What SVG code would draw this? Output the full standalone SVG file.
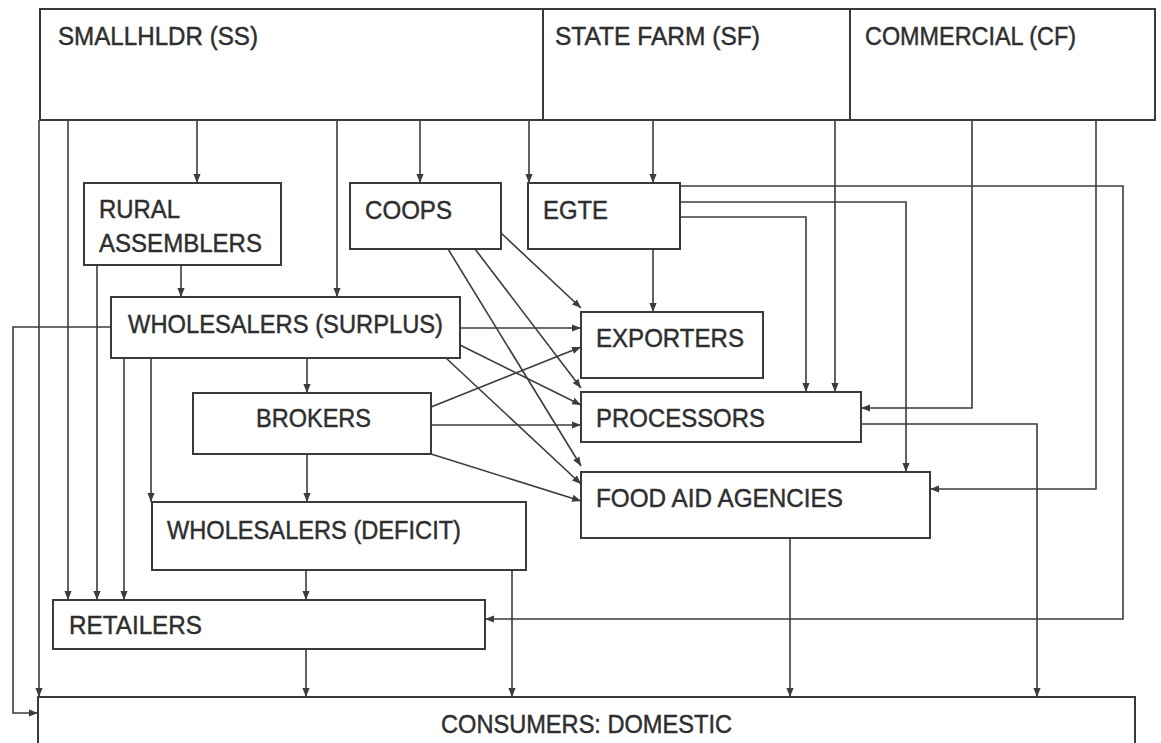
<svg xmlns="http://www.w3.org/2000/svg" width="1161" height="743" viewBox="0 0 1161 743">
<style>
.box{fill:none;stroke:#3a3a3a;stroke-width:2}
.t{font-family:"Liberation Sans",Arial,sans-serif;font-size:26.5px;fill:#2e2e2e;stroke:#2e2e2e;stroke-width:0.45}
.c{fill:none;stroke:#3c3c3c;stroke-width:1.6}
.a{marker-end:url(#ah)}
</style>
<defs>
<marker id="ah" viewBox="0 0 10 10" refX="10" refY="5" markerWidth="9" markerHeight="9" markerUnits="userSpaceOnUse" orient="auto">
<path d="M0,1 L10,5 L0,9 z" fill="#3c3c3c"/>
</marker>
</defs>
<rect width="1161" height="743" fill="#ffffff"/>
<g id="producers">
<rect class="box" x="40" y="9" width="1115" height="111"/>
<line class="box" x1="543" y1="9" x2="543" y2="120"/>
<line class="box" x1="850" y1="9" x2="850" y2="120"/>
</g>
<g id="smallholder"><text class="t" x="58" y="45" textLength="200" lengthAdjust="spacingAndGlyphs">SMALLHLDR (SS)</text></g>
<g id="statefarm"><text class="t" x="555" y="45" textLength="205" lengthAdjust="spacingAndGlyphs">STATE FARM (SF)</text></g>
<g id="commercial"><text class="t" x="865" y="45" textLength="211" lengthAdjust="spacingAndGlyphs">COMMERCIAL (CF)</text></g>
<g id="rural"><rect class="box" x="84" y="183" width="197" height="82"/><text class="t" x="99" y="218" textLength="81" lengthAdjust="spacingAndGlyphs">RURAL</text><text class="t" x="99" y="252" textLength="163" lengthAdjust="spacingAndGlyphs">ASSEMBLERS</text></g>
<g id="coops"><rect class="box" x="350" y="183" width="151" height="66"/><text class="t" x="365" y="219" textLength="87" lengthAdjust="spacingAndGlyphs">COOPS</text></g>
<g id="egte"><rect class="box" x="528" y="183" width="152" height="66"/><text class="t" x="543" y="219" textLength="65" lengthAdjust="spacingAndGlyphs">EGTE</text></g>
<g id="ws_surplus"><rect class="box" x="111" y="297" width="349" height="61"/><text class="t" x="128" y="333" textLength="315" lengthAdjust="spacingAndGlyphs">WHOLESALERS (SURPLUS)</text></g>
<g id="exporters"><rect class="box" x="581" y="312" width="182" height="66"/><text class="t" x="596" y="347" textLength="148" lengthAdjust="spacingAndGlyphs">EXPORTERS</text></g>
<g id="brokers"><rect class="box" x="193" y="393" width="238" height="61"/><text class="t" x="256" y="427" textLength="115" lengthAdjust="spacingAndGlyphs">BROKERS</text></g>
<g id="processors"><rect class="box" x="581" y="392" width="280" height="50"/><text class="t" x="596" y="427" textLength="169" lengthAdjust="spacingAndGlyphs">PROCESSORS</text></g>
<g id="foodaid"><rect class="box" x="581" y="472" width="349" height="66"/><text class="t" x="596" y="507" textLength="247" lengthAdjust="spacingAndGlyphs">FOOD AID AGENCIES</text></g>
<g id="ws_deficit"><rect class="box" x="152" y="502" width="374" height="68"/><text class="t" x="167" y="539" textLength="294" lengthAdjust="spacingAndGlyphs">WHOLESALERS (DEFICIT)</text></g>
<g id="retailers"><rect class="box" x="53" y="600" width="432" height="49"/><text class="t" x="69" y="634" textLength="133" lengthAdjust="spacingAndGlyphs">RETAILERS</text></g>
<g id="consumers"><rect class="box" x="38" y="697" width="1097" height="60"/><text class="t" x="441" y="733" textLength="291" lengthAdjust="spacingAndGlyphs">CONSUMERS: DOMESTIC</text></g>
<g id="connectors">
<path class="c a" d="M39,120 V697"/>
<path class="c a" d="M68,120 V600"/>
<path class="c a" d="M197,120 V183"/>
<path class="c a" d="M337,120 V297"/>
<path class="c a" d="M420,120 V183"/>
<path class="c a" d="M529,120 V183"/>
<path class="c a" d="M653,120 V183"/>
<path class="c a" d="M835,120 V392"/>
<path class="c a" d="M972,120 V408 H861"/>
<path class="c a" d="M1096,120 V489 H930"/>
<path class="c a" d="M97,265 V600"/>
<path class="c a" d="M181,265 V297"/>
<path class="c a" d="M111,327 H13 V713 H38"/>
<path class="c a" d="M124,358 V600"/>
<path class="c a" d="M151,358 V502"/>
<path class="c a" d="M307,358 V393"/>
<path class="c a" d="M460,328 H581"/>
<path class="c a" d="M460,345 L581,405"/>
<path class="c a" d="M446,358 L581,484"/>
<path class="c a" d="M501,233 L581,308"/>
<path class="c a" d="M475,249 L581,388"/>
<path class="c a" d="M448,249 L581,466"/>
<path class="c a" d="M431,407 L581,347"/>
<path class="c a" d="M431,425 H581"/>
<path class="c a" d="M431,454 L581,501"/>
<path class="c a" d="M307,454 V502"/>
<path class="c a" d="M653,249 V312"/>
<path class="c a" d="M680,186 H1123 V619 H485"/>
<path class="c a" d="M680,202 H906 V472"/>
<path class="c a" d="M680,217 H806 V392"/>
<path class="c a" d="M861,424 H1037 V697"/>
<path class="c a" d="M790,538 V697"/>
<path class="c a" d="M306,570 V600"/>
<path class="c a" d="M512,570 V697"/>
<path class="c a" d="M306,649 V697"/>
</g>
</svg>
